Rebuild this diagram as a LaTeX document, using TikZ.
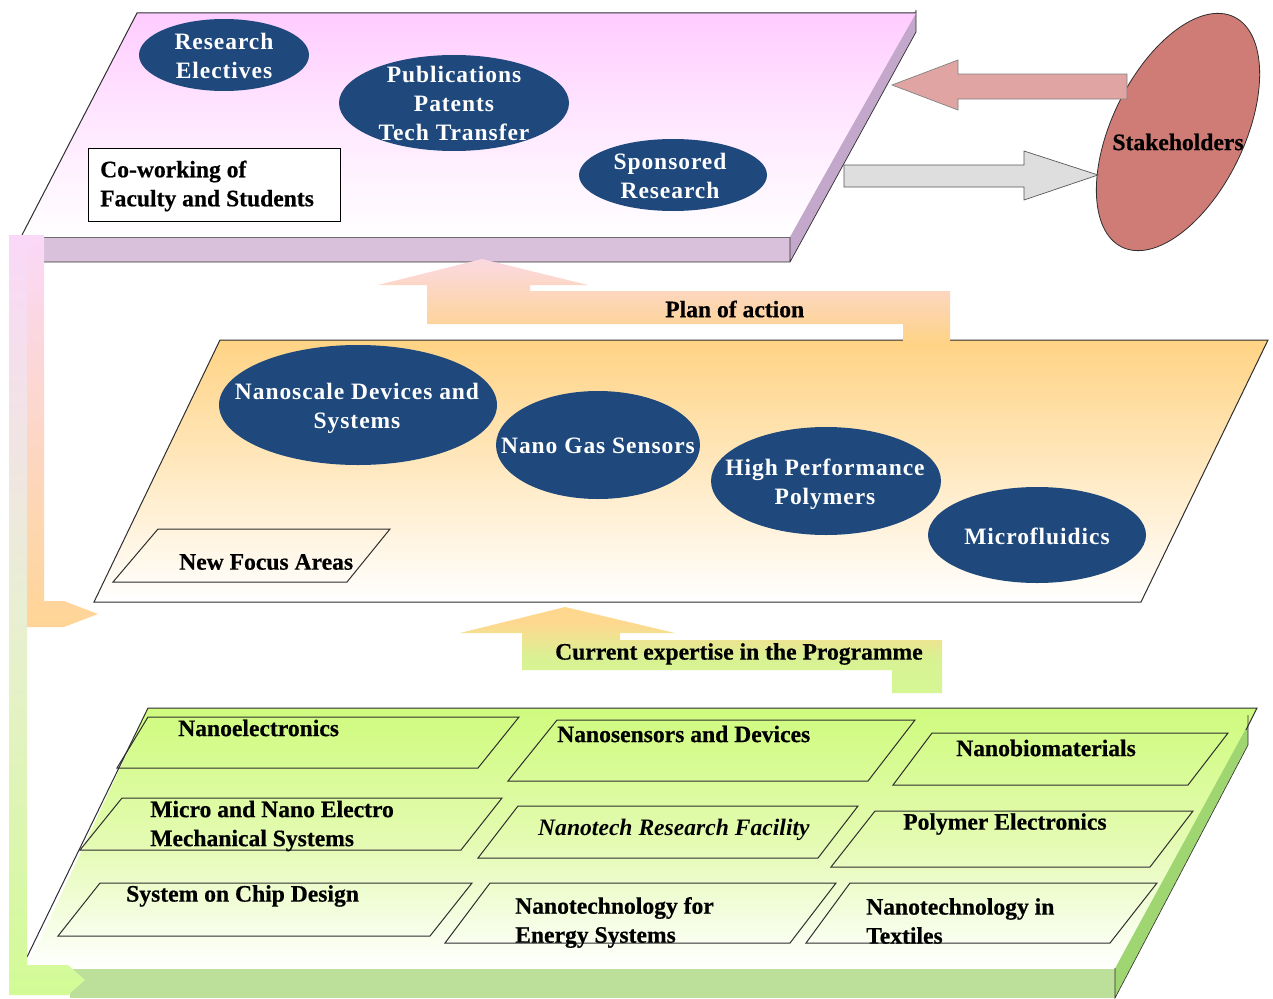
\documentclass[tikz,border=0pt]{standalone}
\usepackage{fontspec}
\setmainfont[BoldFeatures={FakeBold=0.5}]{Liberation Serif}
\newfontfamily\ovalfont[LetterSpace=4]{Liberation Serif}
\usetikzlibrary{shapes.geometric}
\definecolor{ovalblue}{HTML}{1F497D}
\definecolor{edge}{HTML}{2E2E2E}
\definecolor{pinktop}{HTML}{FFCCFF}
\definecolor{orangetop}{HTML}{FFD384}
\definecolor{greentop}{HTML}{CFFB7E}
\definecolor{greenmid}{HTML}{E3FBB0}
\definecolor{pinkfront}{HTML}{D9C1DB}
\definecolor{pinkside}{HTML}{C3A8CB}
\definecolor{greenfront}{HTML}{BCDF99}
\definecolor{greenside}{HTML}{9FD672}
\definecolor{stake}{HTML}{CF7B76}
\definecolor{rosearrow}{HTML}{E0A5A2}
\definecolor{greyarrow}{HTML}{DEDEDE}
\definecolor{barpink}{HTML}{FAD8F8}
\definecolor{baroran}{HTML}{FFD596}
\definecolor{barmid}{HTML}{E9EFD2}
\definecolor{bargreen}{HTML}{D2FB96}
\definecolor{arrowgreen}{HTML}{D8F293}
\definecolor{arroworan}{HTML}{FFD88F}
\pgfdeclareverticalshading{currentarrowshade}{100bp}{
  color(0bp)=(bargreen); color(45bp)=(arrowgreen); color(66bp)=(arroworan); color(100bp)=(arroworan)}
\pgfdeclareverticalshading{planarrowshade}{100bp}{
  color(0bp)=(orangetop); color(26bp)=(orangetop); color(70bp)=(barpink!70!arroworan); color(100bp)=(barpink)}
\tikzset{
  x=1pt,y=-1pt,
  oval/.style={shape=ellipse,fill=ovalblue,inner sep=0pt},
  ovaltext/.style={inner sep=0pt,text=white,align=center,
    font=\ovalfont\bfseries\fontsize{23.5}{29}\selectfont},
  lbl/.style={anchor=west,inner sep=0pt,align=left,text=black,
    font=\bfseries\fontsize{23.6}{29}\selectfont},
  cell/.style={draw=edge,line width=1pt,line join=miter},
  plateline/.style={draw=edge,line width=1pt},
}
\begin{document}
\begin{tikzpicture}
\useasboundingbox (0,0) rectangle (1273,998);
\fill[white] (0,0) rectangle (1273,998);

% top plate
\fill[pinkfront] (44,237) -- (790,237) -- (790,262) -- (44,262) -- cycle;
\fill[pinkside] (916,10) -- (916,32) -- (790,262) -- (790,237) -- cycle;
\draw[edge,line width=0.7pt] (44,262) -- (790,262) -- (790,237) (790,262) -- (916,32) -- (916,10);
\shade[top color=pinktop,bottom color=white,middle color=pinktop!45!white]
  (137,13) -- (916,13) -- (789,237) -- (22,237) -- cycle;
\draw[plateline] (22,235) -- (137,13) -- (916,13);
\draw[edge!70,line width=0.9pt] (44,237) -- (790,237);

% middle plate
\shade[top color=orangetop,bottom color=white]
  (220,340) -- (1268,340) -- (1141,602) -- (94,602) -- cycle;
\draw[plateline] (220,340) -- (1268,340) -- (1141,602) -- (94,602) -- cycle;

% bottom plate
\fill[greenfront] (70,969) -- (1115,969) -- (1115,998) -- (70,998) -- cycle;
\fill[greenside] (1248,715) -- (1248,745) -- (1115,998) -- (1115,968) -- cycle;
\shade[top color=greentop,bottom color=white,middle color=greenmid]
  (148,708) -- (1257,708) -- (1115,968) -- (27,968) -- cycle;
\draw[plateline] (27,957) -- (148,708) -- (1257,708) -- (1246,730);
\draw[edge,line width=0.6pt] (1115,968) -- (1115,998) -- (1248,745) -- (1248,715);

% left feedback bars
\shade[top color=barpink,bottom color=bargreen,middle color=barmid]
  (9,235) -- (27,235) -- (27,965) -- (68,965) -- (85,980) -- (68,995) -- (9,995) -- cycle;
\shade[top color=barpink,bottom color=baroran]
  (27,235) -- (44,235) -- (44,601) -- (64,601) -- (98,614) -- (64,627) -- (27,627) -- cycle;

% cells of the bottom plate
\draw[cell] (148,717) -- (519,717) -- (478,768) -- (117,768) -- cycle;
\draw[cell] (557,720) -- (915,720) -- (868,781) -- (508,781) -- cycle;
\draw[cell] (932,733) -- (1228,733) -- (1188,785) -- (893,785) -- cycle;
\draw[cell] (122,798) -- (502,798) -- (461,850) -- (80,850) -- cycle;
\draw[cell] (518,806) -- (858,806) -- (818,858) -- (478,858) -- cycle;
\draw[cell] (875,811) -- (1193,811) -- (1150,867) -- (831,867) -- cycle;
\draw[cell] (100,883) -- (472,883) -- (430,936) -- (58,936) -- cycle;
\draw[cell] (490,883) -- (836,883) -- (790,943) -- (445,943) -- cycle;
\draw[cell] (850,883) -- (1157,883) -- (1110,943) -- (806,943) -- cycle;
\draw[cell] (158,529) -- (390,529) -- (347,582) -- (113,582) -- cycle;

% block arrows between plates
\shade[shading=planarrowshade]
  (482,259) -- (588,285) -- (530,285) -- (530,291) -- (950,291) -- (950,347) -- (903,347)
  -- (903,324) -- (427,324) -- (427,285) -- (378,285) -- cycle;
\shade[shading=currentarrowshade]
  (565,607) -- (675,633) -- (620,633) -- (620,640) -- (942,640) -- (942,693) -- (892,693)
  -- (892,670) -- (522,670) -- (522,633) -- (460,633) -- cycle;

% stakeholders
\node[shape=ellipse,draw=edge,line width=0.8pt,fill=stake,inner sep=0pt,minimum width=132pt,
  minimum height=256pt,rotate=-26] (stakeoval) at (1178,132) {};
\fill[rosearrow,draw=edge!60,line width=0.7pt]
  (892,85) -- (958,60) -- (958,74) -- (1127,74) -- (1127,99) -- (958,99) -- (958,110) -- cycle;
\fill[greyarrow,draw=edge!80,line width=0.7pt]
  (844,165) -- (1024,165) -- (1024,151) -- (1098,175) -- (1024,200) -- (1024,187) -- (844,187) -- cycle;
\node[lbl,anchor=center] (stakeholders) at (1178,142) {Stakeholders};

% ovals
\node[oval,minimum width=170pt,minimum height=72pt] (electivesoval) at (224,55) {};
\node[ovaltext] (electives) at (224,56) {Research\\Electives};
\node[oval,minimum width=230pt,minimum height=96pt] (publicationsoval) at (454,103) {};
\node[ovaltext] (publications) at (454,103.5) {Publications\\Patents\\Tech Transfer};
\node[oval,minimum width=188pt,minimum height=72pt] (sponsoredoval) at (673,175) {};
\node[ovaltext] (sponsored) at (670,175.5) {Sponsored\\Research};
\node[oval,minimum width=278pt,minimum height=120pt] (devicesoval) at (358,405) {};
\node[ovaltext] (devices) at (357,408.5) {Nanoscale Devices and\\Systems};
\node[oval,minimum width=204pt,minimum height=108pt] (gasoval) at (598,445) {};
\node[ovaltext] (gas) at (598,446) {Nano Gas Sensors};
\node[oval,minimum width=230pt,minimum height=108pt] (polymersoval) at (826,481) {};
\node[ovaltext] (polymers) at (825,484.5) {High Performance\\Polymers};
\node[oval,minimum width=218pt,minimum height=96pt] (microfluidicsoval) at (1037,535) {};
\node[ovaltext] (microfluidics) at (1037,536) {Microfluidics};

% labels
\node[draw=black,line width=0.9pt,fill=white,minimum width=252pt,minimum height=73pt] (coworkbox) at (214,184.5) {};
\node[lbl] (cowork) at (100,186) {Co-working of\\Faculty and Students};
\node[lbl] (plan) at (665,309) {Plan of action};
\node[lbl] (focus) at (179,562) {New Focus Areas};
\node[lbl] (current) at (555,654) {Current expertise in the Programme};
\node[lbl] (nanoel) at (178,728) {Nanoelectronics};
\node[lbl] (nanosens) at (557,734) {Nanosensors and Devices};
\node[lbl] (nanobio) at (956,748) {Nanobiomaterials};
\node[lbl] (mems) at (150,826) {Micro and Nano Electro\\Mechanical Systems};
\node[lbl,font=\bfseries\itshape\fontsize{23.6}{29}\selectfont] (facility) at (538,830) {Nanotech Research Facility};
\node[lbl] (polyel) at (903,824) {Polymer Electronics};
\node[lbl] (soc) at (126,896) {System on Chip Design};
\node[lbl] (energy) at (515,922.5) {Nanotechnology for\\Energy Systems};
\node[lbl] (textiles) at (866,921) {Nanotechnology in\\Textiles};
\end{tikzpicture}
\end{document}
